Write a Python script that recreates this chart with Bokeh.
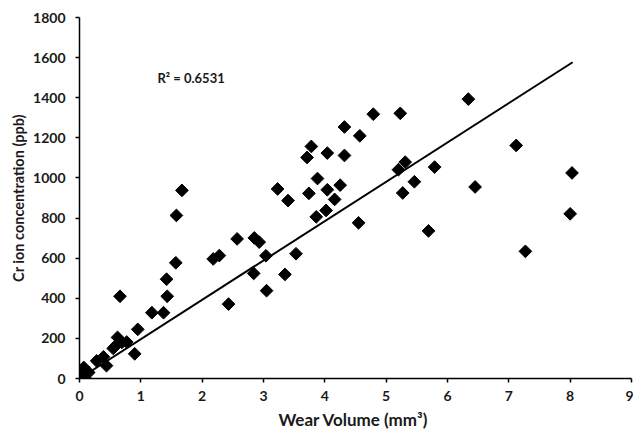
import numpy as np
from bokeh.plotting import figure
from bokeh.models import Range1d, Label, FixedTicker
from bokeh.embed import file_html
from bokeh.resources import INLINE

# Wear volume (mm^3) and Cr ion concentration (ppb)
wear_volume = [0.03, 0.04, 0.08, 0.07, 0.15, 0.00, 0.28, 0.39, 0.44, 0.55,
               0.58, 0.62, 0.69, 0.77, 0.66, 0.90, 0.95, 1.18, 1.37, 1.43,
               1.42, 1.57, 1.58, 1.67, 2.18, 2.28, 2.43, 2.57, 2.84, 2.85,
               2.93, 3.04, 3.05, 3.23, 3.35, 3.40, 3.53, 3.71, 3.74, 3.78,
               3.86, 3.88, 4.02, 4.04, 4.04, 4.16, 4.25, 4.32, 4.32, 4.55,
               4.57, 4.79, 5.20, 5.23, 5.27, 5.31, 5.46, 5.69, 5.79, 6.34,
               6.45, 7.12, 7.27, 8.00, 8.03]
cr_ion = [25, 13, 5, 55, 30, 5, 88, 108, 64, 150,
          160, 205, 180, 182, 410, 123, 245, 328, 328, 410,
          495, 577, 813, 938, 596, 613, 371, 696, 524, 701,
          680, 612, 438, 945, 519, 887, 622, 1102, 923, 1157,
          806, 997, 838, 941, 1124, 893, 964, 1112, 1254, 776,
          1210, 1318, 1041, 1322, 925, 1079, 981, 736, 1054, 1393,
          955, 1162, 634, 821, 1025]

# Linear trendline endpoints
trend_x = [0.0, 8.04]
trend_y = [0.0, 1577.0]
r_squared_text = "R\u00b2 = 0.6531"

x_ticks = [0, 1, 2, 3, 4, 5, 6, 7, 8, 9]
y_ticks = [0, 200, 400, 600, 800, 1000, 1200, 1400, 1600, 1800]

FONT = "Lato"

p = figure(width=633, height=432, output_backend="svg", toolbar_location=None,
           x_range=Range1d(0, 9), y_range=Range1d(0, 1800),
           min_border_left=79, min_border_right=2, min_border_top=17,
           min_border_bottom=53)
p.outline_line_color = None
p.xgrid.visible = False
p.ygrid.visible = False
p.background_fill_color = "white"

p.line(trend_x, trend_y, line_color="black", line_width=2)
p.scatter(wear_volume, cr_ion, marker="square", angle=np.pi / 4, size=9,
          fill_color="black", line_color="black")

for ax in (p.xaxis[0], p.yaxis[0]):
    ax.axis_line_color = "black"
    ax.axis_line_width = 1.5
    ax.major_tick_line_color = "black"
    ax.major_tick_line_width = 1.5
    ax.major_tick_out = 4
    ax.major_tick_in = 0
    ax.minor_tick_line_color = None
    ax.major_label_text_font = FONT
    ax.major_label_text_font_style = "bold"
    ax.major_label_text_font_size = "14px"
    ax.major_label_text_color = "#1a1a1a"
    ax.axis_label_text_font = FONT
    ax.axis_label_text_font_style = "bold"
    ax.axis_label_text_color = "#1a1a1a"

p.xaxis.ticker = FixedTicker(ticks=x_ticks)
p.yaxis.ticker = FixedTicker(ticks=y_ticks)
p.xaxis.major_label_standoff = 8
p.yaxis.major_label_standoff = 10
p.xaxis.axis_label = "Wear Volume  (mm\u00b3)"
p.yaxis.axis_label = "Cr ion concentration (ppb)"
p.xaxis.axis_label_text_font_size = "17px"
p.yaxis.axis_label_text_font_size = "14.5px"
p.xaxis.axis_label_standoff = 5
p.yaxis.axis_label_standoff = 3

p.add_layout(Label(x=1.27, y=1500, text=r_squared_text, text_font=FONT,
                   text_font_style="bold", text_font_size="13px",
                   text_color="#1a1a1a", text_baseline="middle",
                   text_align="left"))

open("out.html", "w").write(file_html(p, INLINE))
